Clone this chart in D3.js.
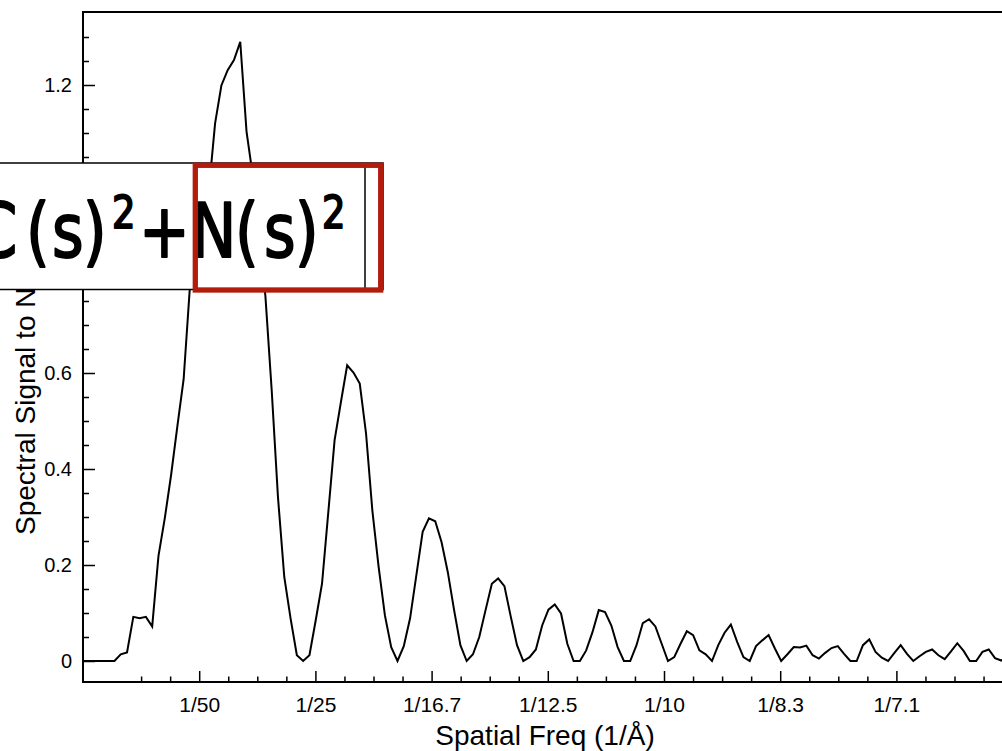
<!DOCTYPE html>
<html>
<head>
<meta charset="utf-8">
<script src="https://cdn.jsdelivr.net/npm/d3@7"></script>
<style>
  body { margin: 0; background: #fff; }
  svg { display: block; }
</style>
</head>
<body>
<div id="chart-area"></div>
<script>
// SVG size
var width = 1002,
    height = 751;

// spectral SNR, one value per frequency sample (samples are evenly spaced)
var freqStep = 0.0010826;
var snr = [
  0, 0, 0, 0, 0, 0, 0.014, 0.018, 0.092, 0.089,
  0.092, 0.072, 0.219, 0.297, 0.387, 0.489, 0.587, 0.78, 0.86, 0.92,
  0.98, 1.12, 1.199, 1.231, 1.252, 1.29, 1.103, 1.01, 0.89, 0.76,
  0.564, 0.341, 0.175, 0.089, 0.012, 0, 0.012, 0.085, 0.161, 0.31,
  0.46, 0.539, 0.616, 0.601, 0.578, 0.474, 0.314, 0.196, 0.095, 0.029,
  0, 0.031, 0.089, 0.179, 0.269, 0.297, 0.291, 0.248, 0.185, 0.106,
  0.033, 0, 0.014, 0.05, 0.106, 0.161, 0.172, 0.156, 0.093, 0.033,
  0, 0.008, 0.024, 0.074, 0.107, 0.118, 0.099, 0.036, 0, 0,
  0.022, 0.06, 0.106, 0.102, 0.074, 0.029, 0, 0, 0.033, 0.079,
  0.087, 0.072, 0.036, 0, 0.008, 0.036, 0.062, 0.054, 0.022, 0.014,
  0, 0.033, 0.059, 0.076, 0.04, 0.008, 0, 0.031, 0.043, 0.054,
  0.026, 0, 0.014, 0.029, 0.028, 0.032, 0.012, 0.005, 0.017, 0.027,
  0.031, 0.015, 0, 0, 0.033, 0.045, 0.019, 0.007, 0, 0.017,
  0.033, 0.015, 0, 0.01, 0.019, 0.024, 0.012, 0.004, 0.02, 0.037,
  0.021, 0, 0, 0.019, 0.024, 0.006, 0.001, 0.01
];

// tick values and labels (0.8 and 1 sit under the formula box)
var xMajorTicks = [0.02, 0.04, 0.06, 0.08, 0.10, 0.12, 0.14];
var xTickLabels = ["1/50", "1/25", "1/16.7", "1/12.5", "1/10", "1/8.3", "1/7.1"];
var xMinorTicks = [0.01, 0.015, 0.025, 0.03, 0.035, 0.045, 0.05, 0.055, 0.065, 0.07, 0.075,
                   0.085, 0.09, 0.095, 0.105, 0.11, 0.115, 0.125, 0.13, 0.135, 0.145, 0.15, 0.155];
var yMajorTicks = [0, 0.2, 0.4, 0.6, 0.8, 1.0, 1.2];
var yTickLabels = ["0", "0.2", "0.4", "0.6", "", "", "1.2"];
var yMinorTicks = [0.05, 0.1, 0.15, 0.25, 0.3, 0.35, 0.45, 0.5, 0.55, 0.65, 0.7, 0.75,
                   0.85, 0.9, 0.95, 1.05, 1.1, 1.15, 1.25, 1.3];

var xTitle = "Spatial Freq (1/\u00C5)";
var yTitle = "Spectral Signal to Noise";

// plot frame
var plotLeft = 83, plotRight = 1007, plotTop = 12, plotBottom = 682;

var data = snr.map(function(v, i) { return { f: i * freqStep, v: v }; });

var x = d3.scaleLinear()
  .domain([0, (plotRight - plotLeft) / 5810])
  .range([plotLeft, plotRight]);

var y = d3.scaleLinear()
  .domain([0, 1.2])
  .range([661, 85]);

var svg = d3.select("#chart-area")
  .append("svg")
  .attr("width", width)
  .attr("height", height)
  .style("font-family", "'Liberation Sans', Arial, sans-serif");

svg.append("defs").append("clipPath")
  .attr("id", "plot-clip")
  .append("rect")
  .attr("x", plotLeft).attr("y", plotTop)
  .attr("width", plotRight - plotLeft).attr("height", plotBottom - plotTop);

// curve
var line = d3.line()
  .x(function(d) { return x(d.f); })
  .y(function(d) { return y(d.v); });

svg.append("path")
  .datum(data)
  .attr("clip-path", "url(#plot-clip)")
  .attr("fill", "none")
  .attr("stroke", "#000")
  .attr("stroke-width", 2)
  .attr("d", line);

// axes, ticks pointing inward
var yAxis = d3.axisLeft(y)
  .tickValues(yMajorTicks)
  .tickSize(-12)
  .tickPadding(11)
  .tickFormat(function(d, i) { return yTickLabels[i]; });

var yMinor = d3.axisLeft(y).tickValues(yMinorTicks).tickSize(-6).tickFormat("");

var xAxis = d3.axisBottom(x)
  .tickValues(xMajorTicks)
  .tickSize(-11)
  .tickPadding(15)
  .tickFormat(function(d, i) { return xTickLabels[i]; });

var xMinor = d3.axisBottom(x).tickValues(xMinorTicks).tickSize(-5.5).tickFormat("");

function styleAxis(g, size) {
  g.select(".domain").remove();
  g.selectAll("line").attr("stroke", "#000").attr("stroke-width", 1.5);
  g.selectAll("text")
    .attr("fill", "#000")
    .style("font-size", size + "px")
    .style("font-family", "'Liberation Sans', Arial, sans-serif");
}

svg.append("g").attr("transform", "translate(" + plotLeft + ",0)").call(yAxis).call(styleAxis, 20);
svg.append("g").attr("transform", "translate(" + plotLeft + ",0)").call(yMinor).call(styleAxis, 20);
svg.append("g").attr("transform", "translate(0," + plotBottom + ")").call(xAxis).call(styleAxis, 21);
svg.append("g").attr("transform", "translate(0," + plotBottom + ")").call(xMinor).call(styleAxis, 21);

// frame
svg.append("rect")
  .attr("x", plotLeft).attr("y", plotTop)
  .attr("width", plotRight - plotLeft).attr("height", plotBottom - plotTop)
  .attr("fill", "none")
  .attr("stroke", "#000")
  .attr("stroke-width", 2);

// titles
svg.append("text")
  .attr("x", (plotLeft + plotRight) / 2)
  .attr("y", 745)
  .attr("text-anchor", "middle")
  .style("font-size", "28px")
  .text(xTitle);

svg.append("text")
  .attr("transform", "translate(35,535) rotate(-90)")
  .attr("text-anchor", "start")
  .style("font-size", "28px")
  .text(yTitle);

// overlay: formula box with red highlight
var overlay = svg.append("g");

overlay.append("rect")
  .attr("x", -10).attr("y", 163)
  .attr("width", 393).attr("height", 126.5)
  .attr("fill", "#fff")
  .attr("stroke", "#000")
  .attr("stroke-width", 1.5);

var sx = 0.82;
var glyphs = [
  { t: "C", x: -25, big: true },
  { t: "(", x: 26, big: true },
  { t: "s", x: 52, big: true },
  { t: ")", x: 83, big: true },
  { t: "2", x: 112, big: false },
  { t: "+", x: 139, big: true },
  { t: "N", x: 191, big: true },
  { t: "(", x: 235, big: true },
  { t: "s", x: 264, big: true },
  { t: ")", x: 295, big: true },
  { t: "2", x: 322, big: false }
];

var formula = overlay.append("g")
  .attr("transform", "scale(" + sx + ",1)")
  .style("font-family", "'DejaVu Sans', sans-serif")
  .attr("fill", "#000")
  .attr("stroke", "#000")
  .attr("stroke-width", 2)
  .attr("stroke-linejoin", "round");

formula.selectAll("text")
  .data(glyphs)
  .enter()
  .append("text")
  .attr("x", function(d) { return d.x / sx; })
  .attr("y", function(d) { return d.big ? 257 : 228; })
  .style("font-size", function(d) { return d.big ? "74px" : "45px"; })
  .text(function(d) { return d.t; });

// cursor line
overlay.append("line")
  .attr("x1", 365).attr("x2", 365)
  .attr("y1", 167).attr("y2", 288)
  .attr("stroke", "#000")
  .attr("stroke-width", 1.5);

overlay.append("rect")
  .attr("x", 195.3).attr("y", 165.3)
  .attr("width", 185.4).attr("height", 124.7)
  .attr("fill", "none")
  .attr("stroke", "#b31b0c")
  .attr("stroke-width", 5.3);
</script>
</body>
</html>
